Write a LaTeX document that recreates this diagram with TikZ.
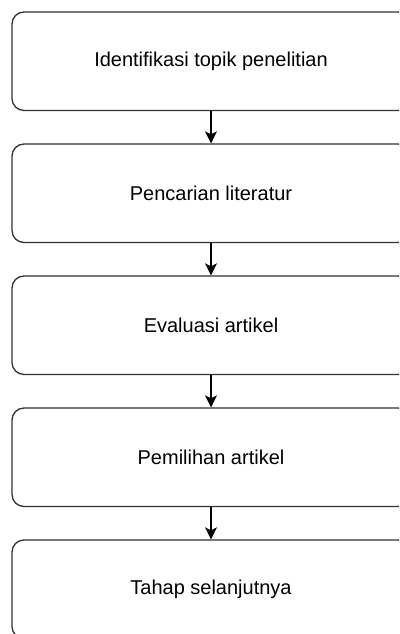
\documentclass[tikz,border=0pt]{standalone}
\usepackage{fontspec}
\setmainfont{Liberation Sans}
\usetikzlibrary{arrows.meta}
\definecolor{edge}{HTML}{333333}
\tikzset{
  stepbox/.style={draw=edge, line width=1.3pt, rounded corners=12pt, fill=white,
    minimum width=398pt, minimum height=98.5pt, inner sep=0pt,
    font=\fontsize{20pt}{24pt}\selectfont, text=black},
  arr/.style={draw=black, line width=1.3pt, -{Stealth[length=12pt,width=12pt,inset=3pt]}}
}
\begin{document}
\begin{tikzpicture}[x=1pt,y=1pt]
\useasboundingbox (0,0) rectangle (399,-634);
\clip (0,0) rectangle (399,-634);
\node[stepbox] (b1) at (211,-61.25) {Identifikasi topik penelitian};
\node[stepbox] (b2) at (211,-193.25) {Pencarian literatur};
\node[stepbox] (b3) at (211,-325.25) {Evaluasi artikel};
\node[stepbox] (b4) at (211,-457.25) {Pemilihan artikel};
\node[stepbox] (b5) at (211,-589.25) {Tahap selanjutnya};
\draw[arr] (b1.south) -- (b2.north);
\draw[arr] (b2.south) -- (b3.north);
\draw[arr] (b3.south) -- (b4.north);
\draw[arr] (b4.south) -- (b5.north);
\end{tikzpicture}
\end{document}
